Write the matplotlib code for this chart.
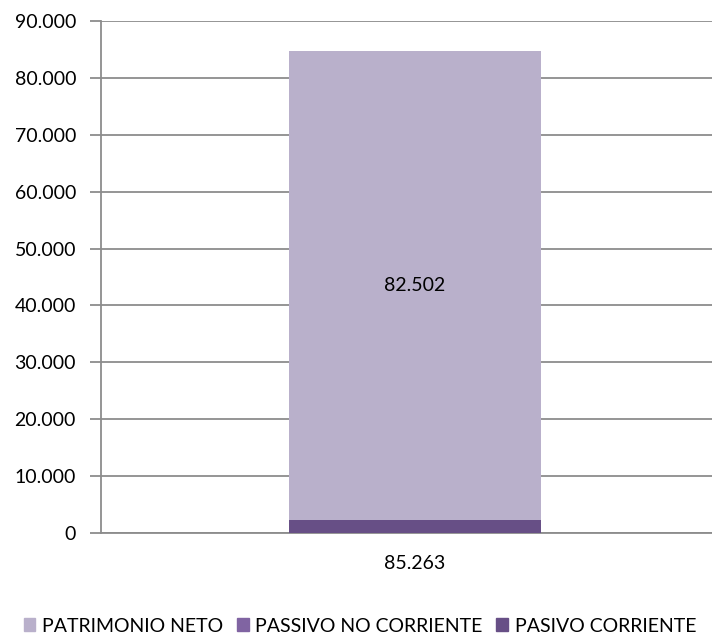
import matplotlib.pyplot as plt
from matplotlib.patches import Patch

plt.rcParams['font.family'] = ['Lato', 'DejaVu Sans']

# Data
categories = ['85.263']
series_names = ['PATRIMONIO NETO', 'PASSIVO NO CORRIENTE', 'PASIVO CORRIENTE']
pasivo_corriente = [2300]
passivo_no_corriente = [0]
patrimonio_neto = [82502]
yticks = list(range(0, 90001, 10000))

colors = {'PATRIMONIO NETO': '#B9B0CB',
          'PASSIVO NO CORRIENTE': '#8064A2',
          'PASIVO CORRIENTE': '#674F86'}

W, H = 712, 639
fig = plt.figure(figsize=(W / 100, H / 100), dpi=100)
# axes runs past the right edge, as in the cropped original
ax = fig.add_axes([101 / W, 1 - 533 / H, (729 - 101) / W, (533 - 21) / H])

x = range(len(categories))
width = 0.4
ax.bar(x, pasivo_corriente, width, color=colors['PASIVO CORRIENTE'], zorder=3)
ax.bar(x, passivo_no_corriente, width, bottom=pasivo_corriente,
       color=colors['PASSIVO NO CORRIENTE'], zorder=3)
bottom2 = [a + b for a, b in zip(pasivo_corriente, passivo_no_corriente)]
ax.bar(x, patrimonio_neto, width, bottom=bottom2,
       color=colors['PATRIMONIO NETO'], zorder=3)

for i, v in enumerate(patrimonio_neto):
    ax.text(i, bottom2[i] + v / 2, f"{v:,}".replace(',', '.'),
            ha='center', va='center', fontsize=14, color='black', zorder=4)

ax.set_xlim(-0.5, 0.5)
ax.set_ylim(0, 90000)
ax.set_yticks(yticks)
ax.set_yticklabels([f"{t:,}".replace(',', '.') for t in yticks], fontsize=14)
ax.set_xticks(list(x))
ax.set_xticklabels(categories, fontsize=14)
ax.yaxis.grid(True, color='#8C8C8C', linewidth=1.3, zorder=0)
for s in ['top', 'right']:
    ax.spines[s].set_visible(False)
ax.spines['left'].set_color('#8C8C8C')
ax.spines['bottom'].set_color('#8C8C8C')
ax.spines['left'].set_linewidth(1.3)
ax.spines['bottom'].set_linewidth(1.3)
ax.tick_params(axis='y', length=8, color='#8C8C8C', width=1.3, pad=10)
ax.tick_params(axis='x', length=0, pad=16)

handles = [Patch(color=colors[n], label=n) for n in series_names]
fig.legend(handles=handles, loc='center left', ncol=3, frameon=False,
           bbox_to_anchor=(16 / W, 1 - 626 / H), fontsize=14,
           handlelength=0.6, handleheight=0.6, handletextpad=0.35,
           columnspacing=0.7, borderaxespad=0)

fig.savefig('out.png', dpi=100)
